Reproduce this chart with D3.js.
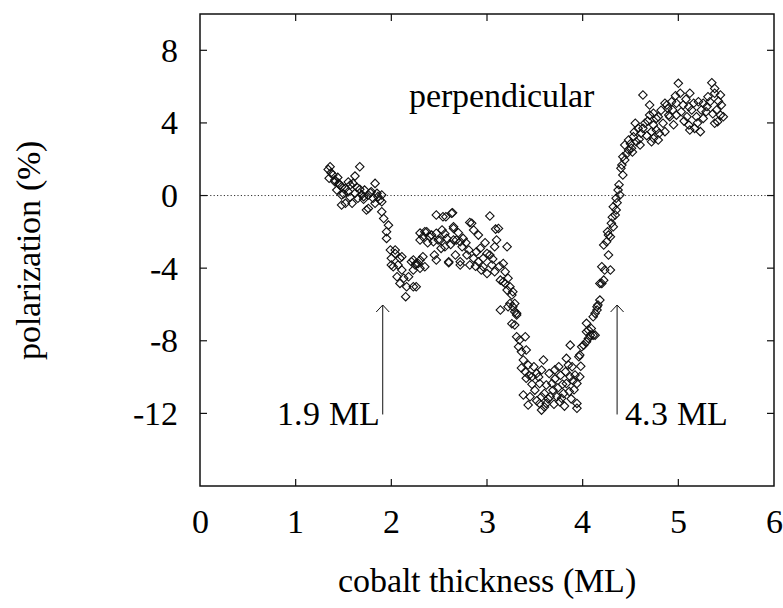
<!DOCTYPE html>
<html>
<head>
<meta charset="utf-8">
<script src="https://cdn.jsdelivr.net/npm/d3@7"></script>
<style>
  @font-face {
    font-family: "ChartSerif";
    src: local("Liberation Serif"), local("LiberationSerif"), local("LiberationSerif-Regular"), local("Times New Roman");
  }
</style>
</head>
<body style="margin:0">
<div id="chart-area"></div>
<script>
const W = 783;
const H = 608;
const margin = { top: 14, right: 9, bottom: 122, left: 200 };
const width = W - margin.left - margin.right;
const height = H - margin.top - margin.bottom;
const fontStack = "ChartSerif, 'Liberation Serif', FreeSerif, 'Nimbus Roman', Tinos, serif";

//Axis ticks
const xTicks = [0, 1, 2, 3, 4, 5, 6];
const yTicks = [8, 4, 0, -4, -8, -12];

//Measured points: cobalt thickness (ML) and polarization (%)
const thickness = [
  1.34, 1.36, 1.67, 1.62, 1.39, 1.41, 1.45, 1.48, 1.52, 1.57, 1.60, 1.83, 1.67, 1.72, 1.78, 1.85, 1.90, 1.48, 1.52, 1.59,
  1.71, 1.76, 1.74, 1.88, 1.90, 1.92, 1.97, 1.95, 1.95, 1.99, 2.04, 2.09, 2.00, 2.07, 2.11, 2.06, 2.13, 2.18, 2.09, 2.16,
  2.23, 2.26, 2.30, 2.23, 2.33, 2.37, 2.15, 2.26, 1.37, 1.41, 1.46, 1.55, 1.62, 1.65, 1.71, 1.76, 1.79, 1.86, 1.90, 1.48,
  1.83, 2.04, 2.00, 2.11, 2.02, 2.21, 2.25, 2.28, 2.33, 2.23, 2.30, 2.35, 2.40, 2.57, 2.64, 2.44, 2.49, 2.56, 2.65, 2.47,
  2.60, 2.68, 2.74, 2.72, 2.82, 2.89, 2.94, 1.43, 1.50, 1.55, 1.64, 1.69, 1.81, 1.57, 1.44, 1.35,
  2.47, 2.54, 2.63, 3.03, 2.42, 2.47, 2.65, 2.84, 2.86, 2.91, 3.12, 3.10, 3.21, 2.51, 2.58, 2.65, 2.72, 2.75, 2.52, 2.45,
  2.60, 2.67, 2.72, 2.79, 2.81, 2.86, 2.91, 2.96, 3.00, 2.96, 3.05, 3.08, 3.03, 3.08, 3.14, 3.17, 3.22, 3.24, 3.27, 3.14,
  3.22, 3.29, 3.31, 2.35, 2.30, 2.30, 3.09, 2.82, 3.26, 2.38, 2.53, 2.70, 2.78, 2.93, 2.98, 3.06, 3.13, 3.19, 2.56, 2.62,
  2.88, 3.00,
  3.29, 3.31, 3.34, 3.40, 3.33, 3.36, 3.41, 3.38, 3.43, 3.49, 3.59, 3.40, 3.47, 3.52, 3.57, 3.41, 3.38, 3.45, 3.43, 3.50,
  3.55, 3.62, 3.57, 3.55, 3.57, 3.62, 3.68, 3.69, 3.73, 3.66, 3.76, 3.75, 3.83, 3.87, 3.85, 3.89, 3.82, 3.87, 3.92, 3.97,
  3.83, 3.94, 3.80, 3.78, 3.94, 3.94, 3.96, 3.97, 3.99, 4.01, 4.04, 4.06, 4.08, 4.06, 4.09, 4.13, 4.04, 4.11, 4.13, 4.15,
  4.16, 4.18, 4.18, 4.22, 4.20, 4.23, 3.17, 3.19, 3.21, 3.26, 3.24, 3.27, 3.29, 3.31, 3.60, 3.64, 3.70, 3.71, 3.74, 3.79,
  3.81, 3.86, 3.88, 3.91, 3.47, 3.52, 3.60, 3.36, 3.44, 3.65, 3.71, 3.77, 3.90, 3.98, 3.54,
  4.63, 4.70, 4.70, 4.55, 4.58, 4.65, 4.61, 4.72, 4.48, 4.53, 4.56, 4.60, 4.44, 4.48, 4.51, 4.42, 4.44, 4.41, 4.42, 4.37,
  4.39, 4.35, 4.32, 4.35, 4.34, 4.30, 4.32, 4.27, 4.29, 4.22, 4.25, 4.27, 4.29, 4.20, 4.15, 4.04, 4.11, 4.77, 4.84, 4.80,
  4.72, 4.79, 4.88, 4.90, 4.46, 4.50, 4.54, 4.59, 4.63, 4.67, 4.52, 4.40, 4.38, 4.36, 4.31, 4.26,
  5.00, 5.35, 5.12, 5.02, 5.38, 5.44, 5.38, 5.31, 5.33, 4.86, 4.93, 4.98, 5.05, 5.11, 5.16, 5.21, 5.26, 5.45, 4.89, 4.94,
  5.03, 5.14, 5.24, 5.29, 5.40, 5.44, 5.47, 5.41, 5.38, 4.74, 4.79, 4.91, 4.98, 5.09, 5.19, 5.26, 4.74, 4.77, 4.86, 4.74,
  5.11, 5.12, 5.17, 5.23, 4.68, 4.82, 4.95, 5.06, 5.20, 5.30, 5.36, 5.42, 5.08, 4.97
];
const polarization = [
  1.44, 1.59, 1.59, 1.07, 1.13, 0.85, 0.67, 0.49, 0.40, 0.58, 0.67, 0.67, 0.34, 0.30, 0.15, 0.12, 0.03, 0.03, -0.43, -0.43,
  -0.21, -0.71, -0.80, -0.25, -0.89, -1.26, -1.63, -1.99, -2.36, -3.00, -3.19, -3.46, -3.83, -3.83, -4.10, -4.47, -4.56, -4.47, -4.84, -5.02,
  -5.02, -3.74, -4.01, -3.55, -2.27, -1.99, -5.57, -5.02, 1.25, 0.76, 0.58, 0.21, 0.12, -0.15, -0.06, 0.03, 0.21, -0.06, -0.34, -0.52,
  -0.43, -3.00, -3.46, -3.37, -3.92, -3.65, -3.83, -3.74, -3.37, -4.10, -2.45, -1.99, -2.27, -1.17, -0.95, -2.55, -2.45, -2.82, -1.81, -3.55,
  -3.70, -2.45, -2.82, -3.83, -3.83, -3.10, -4.10, 0.30, 0.10, 0.75, 0.45, 0.05, -0.15, -0.10, 1.00, 0.95,
  -1.07, -1.17, -0.98, -1.13, -2.18, -2.08, -1.72, -1.53, -1.90, -2.18, -1.81, -2.45, -2.82, -2.45, -2.36, -2.45, -2.55, -2.36, -2.91, -3.28,
  -3.65, -3.28, -3.65, -3.28, -3.00, -3.46, -3.65, -3.46, -3.19, -3.92, -3.83, -2.82, -3.28, -4.20, -4.66, -4.75, -4.56, -5.02, -5.30, -6.31,
  -6.13, -5.95, -6.49, -3.92, -3.55, -2.07, -1.85, -1.49, -7.06, -2.60, -1.90, -2.05, -2.60, -2.90, -2.60, -3.50, -3.90, -4.20, -2.10, -2.70,
  -3.90, -4.30,
  -7.13, -7.78, -7.96, -7.78, -8.33, -8.60, -8.51, -9.06, -9.34, -9.43, -9.06, -9.71, -9.98, -9.80, -9.61, -10.07, -10.99, -11.08, -11.54, -10.72,
  -10.35, -10.44, -11.08, -11.45, -11.82, -11.45, -10.35, -10.72, -11.08, -11.08, -11.36, -9.43, -8.97, -8.24, -9.34, -9.43, -9.71, -9.98, -9.89, -9.98,
  -10.35, -10.35, -10.90, -11.17, -11.45, -11.72, -8.88, -8.79, -8.33, -8.24, -8.06, -7.87, -7.69, -7.41, -7.32, -7.69, -7.04, -6.68, -6.49, -6.31,
  -6.03, -5.76, -4.84, -4.66, -3.92, -4.10, -3.74, -4.84, -5.21, -5.48, -5.95, -6.13, -6.40, -6.58, -10.90, -11.20, -11.50, -10.10, -10.60, -10.40,
  -11.60, -10.80, -11.20, -10.70, -10.40, -11.30, -11.65, -9.50, -9.90, -9.80, -9.60, -9.90, -10.20, -9.40, -10.00,
  5.54, 4.99, 4.43, 3.98, 3.70, 3.98, 3.43, 3.52, 3.06, 3.24, 2.96, 2.78, 2.78, 2.51, 2.60, 2.14, 1.96, 1.68, 1.13, 0.30,
  0.03, -0.15, -0.62, -0.80, -1.07, -1.53, -1.72, -2.18, -2.27, -2.73, -2.55, -3.28, -4.10, -4.84, -6.13, -7.50, -7.69, 4.25, 3.98, 3.43,
  2.96, 3.06, 4.99, 4.43, 2.30, 2.85, 3.50, 3.10, 3.70, 3.30, 2.40, 1.50, 0.60, -0.40, -1.20, -2.00,
  6.18, 6.21, 5.63, 5.63, 5.90, 5.54, 5.63, 5.44, 5.17, 5.08, 5.17, 5.08, 4.99, 4.89, 5.08, 5.17, 5.08, 4.99, 4.80, 4.71,
  4.62, 4.71, 4.71, 4.62, 4.71, 4.43, 4.34, 4.07, 3.98, 4.53, 4.34, 4.34, 4.43, 4.34, 4.34, 4.25, 3.88, 3.61, 3.52, 3.15,
  3.88, 3.61, 3.70, 3.52, 4.10, 4.70, 3.90, 4.10, 4.00, 4.90, 4.50, 5.20, 5.30, 5.50
];

//Annotations
const annoLabels = ["perpendicular", "1.9 ML", "4.3 ML"];
const annoX = [2.18, 1.88, 4.44];
const annoY = [4.9, -12.64, -12.64];
const arrowX = [1.91, 4.36];
const arrowFrom = -12.06;
const arrowTo = -6.03;

const points = thickness.map((x, i) => ({ x, y: polarization[i] }));

const svg = d3
  .select("#chart-area")
  .append("svg")
  .attr("width", W)
  .attr("height", H);

//Scales (absolute page coordinates)
const xScale = d3.scaleLinear().domain([0, 6]).range([margin.left, margin.left + width]);
const yScale = d3.scaleLinear().domain([-16, 10]).range([margin.top + height, margin.top]);

//Every text goes straight onto the svg
const addText = (label, x, y, anchor) =>
  svg
    .append("text")
    .attr("x", x)
    .attr("y", y)
    .attr("font-size", "34px")
    .attr("font-family", fontStack)
    .attr("text-anchor", anchor)
    .style("font-family", fontStack)
    .text(label);

//Zero line
svg.append("line")
  .attr("x1", xScale(0))
  .attr("x2", xScale(6))
  .attr("y1", yScale(0))
  .attr("y2", yScale(0))
  .attr("stroke", "#333")
  .attr("stroke-width", 1)
  .attr("stroke-dasharray", "1.2,2.2");

//Tick marks pointing inward on all four sides
const tickLen = 7;
const ticks = svg.append("g").attr("stroke", "#111").attr("stroke-width", 1.2);
xTicks.slice(1, -1).forEach((t) => {
  ticks.append("line").attr("x1", xScale(t)).attr("x2", xScale(t)).attr("y1", yScale(-16)).attr("y2", yScale(-16) - tickLen);
  ticks.append("line").attr("x1", xScale(t)).attr("x2", xScale(t)).attr("y1", yScale(10)).attr("y2", yScale(10) + tickLen);
});
yTicks.forEach((t) => {
  ticks.append("line").attr("x1", xScale(0)).attr("x2", xScale(0) + tickLen).attr("y1", yScale(t)).attr("y2", yScale(t));
  ticks.append("line").attr("x1", xScale(6)).attr("x2", xScale(6) - tickLen).attr("y1", yScale(t)).attr("y2", yScale(t));
});

//Tick labels
xTicks.forEach((t) => addText(String(t), xScale(t), yScale(-16) + 47, "middle"));
yTicks.forEach((t) => addText(String(t), xScale(0) - 22, yScale(t) + 11.5, "end"));

//Frame
svg.append("rect")
  .attr("x", xScale(0))
  .attr("y", yScale(10))
  .attr("width", width)
  .attr("height", height)
  .attr("fill", "none")
  .attr("stroke", "#111")
  .attr("stroke-width", 1.5);

//Axis titles
addText("cobalt thickness (ML)", margin.left + width / 2, yScale(-16) + 106, "middle");
addText("polarization (%)", -(margin.top + height / 2), 40, "middle")
  .attr("transform", "rotate(-90)");

//Data points (open diamonds)
const diamond = d3.symbol().type(d3.symbolSquare).size(36);
svg.append("g")
  .selectAll("path")
  .data(points)
  .enter()
  .append("path")
  .attr("d", diamond)
  .attr("transform", (d) => `translate(${xScale(d.x)}, ${yScale(d.y)}) rotate(45)`)
  .attr("fill", "none")
  .attr("stroke", "#111")
  .attr("stroke-width", 1.1);

//Annotation arrows
arrowX.forEach((ax) => {
  const px = xScale(ax);
  const y0 = yScale(arrowFrom);
  const y1 = yScale(arrowTo);
  svg.append("line")
    .attr("x1", px).attr("x2", px)
    .attr("y1", y0).attr("y2", y1)
    .attr("stroke", "#111").attr("stroke-width", 1);
  svg.append("path")
    .attr("d", `M${px - 6.5},${y1 + 7} L${px},${y1} L${px + 6.5},${y1 + 7}`)
    .attr("fill", "none").attr("stroke", "#111").attr("stroke-width", 1);
});

//Annotation text
annoLabels.forEach((label, i) => {
  addText(label, xScale(annoX[i]), yScale(annoY[i]), i === 1 ? "end" : "start");
});
</script>
</body>
</html>
